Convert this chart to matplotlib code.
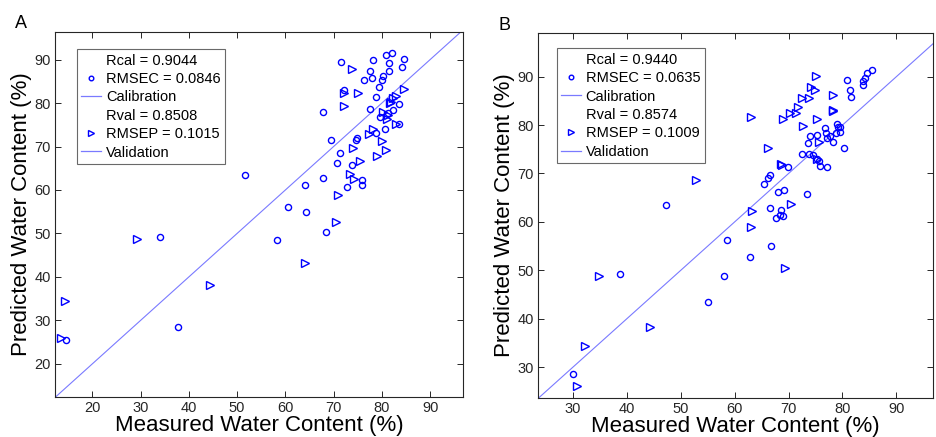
import numpy as np
import matplotlib
matplotlib.use("Agg")
import matplotlib.pyplot as plt
from matplotlib.lines import Line2D

plt.rcParams['font.family'] = ['Liberation Sans', 'DejaVu Sans']

# Panel A - calibration (circles) and validation (triangles)
a_cal_x = [71.5, 78.1, 80.9, 82.1, 81.4, 84.5, 77.6, 81.5, 84.1, 76.2, 77.9, 80.2, 80.0,
           79.4, 72.2, 78.7, 67.8, 77.6, 79.7, 82.3, 83.5, 81.2, 80.7, 78.8, 83.5, 69.5,
           74.7, 74.9, 71.3, 70.7, 73.8, 67.9, 64.1, 72.7, 75.8, 75.8, 60.6, 64.3, 68.4,
           58.3, 51.7, 34.0, 37.8, 14.5]
a_cal_y = [89.5, 89.9, 91.0, 91.5, 89.2, 90.1, 87.4, 87.4, 88.2, 85.4, 85.7, 86.3, 85.3,
           83.7, 83.1, 81.3, 78.0, 78.7, 76.8, 78.5, 79.7, 77.8, 74.0, 73.2, 75.1, 71.6,
           71.6, 71.9, 68.6, 66.2, 65.7, 62.8, 61.2, 60.8, 62.2, 61.2, 56.2, 55.0, 50.3,
           48.6, 63.4, 49.1, 28.4, 25.4]
a_val_x = [73.8, 72.1, 75.0, 72.1, 84.5, 83.0, 82.3, 81.6, 81.8, 80.3, 81.0, 81.3, 83.0,
           78.1, 77.4, 80.0, 74.1, 75.4, 79.0, 80.9, 73.3, 74.3, 70.9, 70.5, 64.1, 44.3,
           29.3, 14.3, 13.6]
a_val_y = [87.8, 82.3, 82.4, 79.2, 83.3, 81.7, 81.2, 79.9, 80.3, 77.9, 76.4, 77.2, 75.2,
           74.0, 72.8, 71.2, 69.7, 66.7, 67.9, 69.1, 63.6, 62.5, 58.8, 52.7, 43.2, 38.2,
           48.8, 34.5, 25.9]

# Panel B
b_cal_x = [29.9, 38.7, 47.2, 55.1, 58.1, 58.6, 62.9, 66.8, 66.5, 67.6, 68.6, 68.4, 69.0,
           68.0, 69.2, 65.5, 66.1, 66.5, 69.9, 73.5, 72.5, 73.8, 74.6, 73.6, 74.0, 75.2,
           75.6, 75.8, 77.2, 75.3, 76.7, 76.9, 77.2, 77.7, 78.2, 78.8, 78.9, 79.1, 79.5,
           79.5, 80.3, 80.8, 81.4, 81.5, 83.9, 83.9, 84.2, 84.6, 85.4]
b_cal_y = [28.5, 49.3, 63.4, 43.4, 48.9, 56.2, 52.7, 55.1, 62.9, 60.9, 62.5, 61.5, 61.3,
           66.2, 66.6, 67.9, 69.1, 69.6, 71.3, 65.8, 74.0, 74.0, 73.9, 76.3, 77.7, 73.0,
           72.6, 71.6, 71.3, 78.0, 79.3, 78.4, 77.3, 77.8, 76.6, 78.4, 80.2, 79.7, 79.7,
           78.6, 75.3, 89.4, 87.3, 85.8, 88.2, 89.2, 89.7, 90.8, 91.4]
b_val_x = [30.8, 32.2, 34.8, 44.3, 52.9, 63.1, 63.3, 63.1, 66.2, 68.5, 68.7, 70.4, 69.4,
           69.0, 70.2, 71.3, 71.7, 72.5, 73.7, 72.6, 74.1, 74.9, 75.0, 75.2, 75.6, 78.2,
           78.2, 78.3, 75.2]
b_val_y = [26.0, 34.4, 48.9, 38.3, 68.7, 81.7, 62.2, 58.9, 75.2, 72.0, 71.7, 63.6, 50.4,
           81.3, 82.4, 82.4, 83.7, 85.5, 85.5, 79.9, 87.8, 87.3, 90.1, 81.3, 76.6, 86.2,
           83.2, 83.0, 73.0]

a_stats = ['Rcal = 0.9044', 'RMSEC = 0.0846', 'Calibration',
           'Rval = 0.8508', 'RMSEP = 0.1015', 'Validation']
b_stats = ['Rcal = 0.9440', 'RMSEC = 0.0635', 'Calibration',
           'Rval = 0.8574', 'RMSEP = 0.1009', 'Validation']

diag = np.array([0, 100])

fig = plt.figure(figsize=(9.36, 4.37), dpi=100)
axA = fig.add_axes([0.0588, 0.0915, 0.4359, 0.835])
axB = fig.add_axes([0.5748, 0.0892, 0.422, 0.835])

mk = dict(linestyle='none', markerfacecolor='none', markeredgecolor='#0000ff',
          markeredgewidth=1.0)
line_col = '#7a7aff'


def draw(ax, cx, cy, vx, vy, labels, xlim, ylim, ticks, leg_pos):
    ax.plot(diag, diag, color=line_col, lw=0.8)
    ax.plot(cx, cy, marker='o', markersize=4.4, **mk)
    ax.plot(vx, vy, marker='>', markersize=5.6, **mk)
    ax.set_xlim(xlim)
    ax.set_ylim(ylim)
    ax.set_xticks(ticks)
    ax.set_yticks(ticks)
    ax.tick_params(direction='in', top=True, right=True, length=4, width=0.7,
                   labelsize=10.5, colors='#262626', pad=3)
    for s in ax.spines.values():
        s.set_color('#262626')
        s.set_linewidth(0.8)
    ax.set_xlabel('Measured Water Content (%)', fontsize=16, labelpad=0)
    ax.set_ylabel('Predicted Water Content (%)', fontsize=16, labelpad=2)

    handles = [Line2D([], [], linestyle='none'),
               Line2D([], [], marker='o', markersize=3.3, **mk),
               Line2D([], [], color=line_col, lw=0.9),
               Line2D([], [], linestyle='none'),
               Line2D([], [], marker='>', markersize=4.2, **mk),
               Line2D([], [], color=line_col, lw=0.9)]
    leg = ax.legend(handles, labels, loc='upper left', bbox_to_anchor=leg_pos,
                    fontsize=10.5, frameon=True, fancybox=False, edgecolor='#444444',
                    handlelength=1.4, handletextpad=0.3, borderpad=0.3,
                    labelspacing=0.3, borderaxespad=0)
    leg.get_frame().set_linewidth(0.8)


draw(axA, a_cal_x, a_cal_y, a_val_x, a_val_y, a_stats,
     (12.3, 96.8), (12.4, 96.3), [20, 30, 40, 50, 60, 70, 80, 90], (0.053, 0.953))
draw(axB, b_cal_x, b_cal_y, b_val_x, b_val_y, b_stats,
     (23.5, 96.8), (23.6, 99.0), [30, 40, 50, 60, 70, 80, 90], (0.047, 0.958))

fig.text(20.5 / 936, 1 - 23 / 437, 'A', fontsize=13, ha='center', va='center')
fig.text(504 / 936, 1 - 25 / 437, 'B', fontsize=13, ha='center', va='center')

fig.savefig('out.png', dpi=100)
